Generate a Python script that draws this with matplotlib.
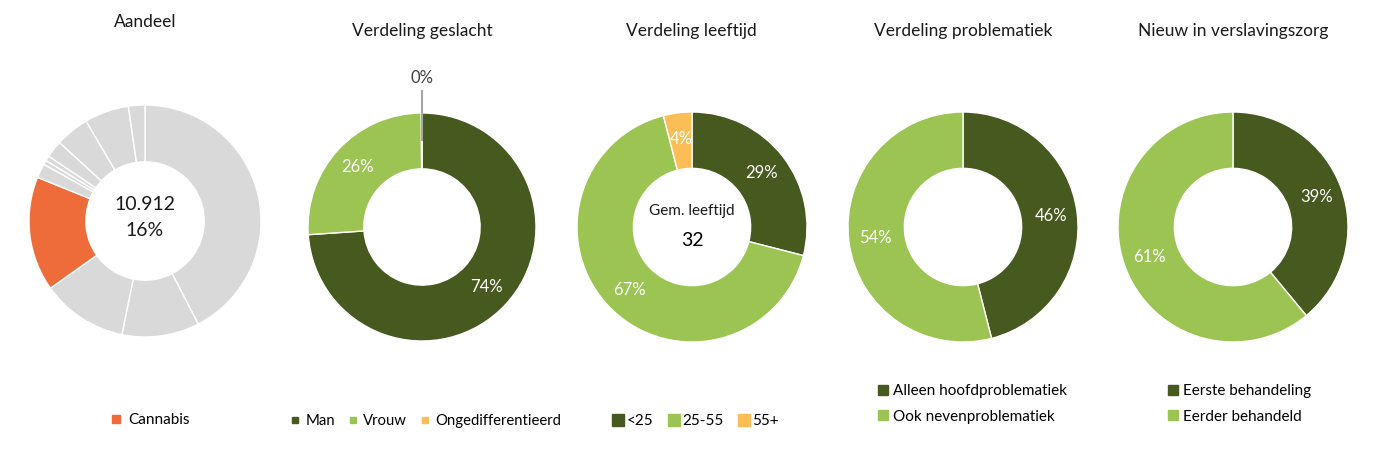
import matplotlib
matplotlib.use("Agg")
import matplotlib.pyplot as plt
import numpy as np
from matplotlib.lines import Line2D

plt.rcParams["font.family"] = ["Lato", "DejaVu Sans"]

W, H = 1388, 449

DARK = "#46591e"
LIGHT = "#9cc452"
ORANGE = "#fbbd55"
CANNABIS = "#ee6c3a"
GREY = "#d9d9d9"

# Aandeel: share of main problem substances, clockwise from 12 o'clock
aandeel_values = [42.5, 10.8, 12.0, 16.0, 2.0, 0.6, 0.7, 2.4, 4.7, 6.2, 2.3]
aandeel_cannabis_idx = 3
aandeel_total = "10.912"
aandeel_pct = "16%"

geslacht_labels = ["Man", "Vrouw", "Ongedifferentieerd"]
geslacht_values = [74, 26, 0.1]
geslacht_pct = ["74%", "26%", "0%"]

leeftijd_labels = ["<25", "25-55", "55+"]
leeftijd_values = [29, 67, 4]
gem_leeftijd = "32"

problematiek_labels = ["Alleen hoofdproblematiek", "Ook nevenproblematiek"]
problematiek_values = [46, 54]

nieuw_labels = ["Eerste behandeling", "Eerder behandeld"]
nieuw_values = [39, 61]


def fx(x):
    return x / W


def fy(y):
    return 1 - y / H


def donut_axes(fig, cx, cy, r):
    ax = fig.add_axes([fx(cx - r), fy(cy + r), 2 * r / W, 2 * r / H])
    return ax


def donut(ax, values, colors, show_pct=True, labels_txt=None):
    wedges, _ = ax.pie(values, colors=colors, startangle=90, counterclock=False,
                       radius=1, wedgeprops=dict(width=0.49, edgecolor="white", linewidth=1))
    ax.set_xlim(-1, 1)
    ax.set_ylim(-1, 1)
    ax.axis("off")
    if show_pct:
        total = sum(values)
        start = 90.0
        for i, v in enumerate(values):
            if labels_txt is not None and labels_txt[i] is None:
                start -= v / total * 360
                continue
            mid = np.deg2rad(start - v / total * 180)
            txt = labels_txt[i] if labels_txt else f"{v / total * 100:.0f}%"
            ax.text(0.77 * np.cos(mid), 0.77 * np.sin(mid), txt, color="white",
                    ha="center", va="center", fontsize=12)
            start -= v / total * 360
    return wedges


def square(color, ms):
    return Line2D([], [], marker="s", linestyle="none", color=color, markersize=ms)


fig = plt.figure(figsize=(W / 100, H / 100), dpi=100)

# titles
titles = [("Aandeel", 145, 22), ("Verdeling geslacht", 422, 31), ("Verdeling leeftijd", 691, 31),
          ("Verdeling problematiek", 963, 31), ("Nieuw in verslavingszorg", 1233, 31)]
for t, x, y in titles:
    fig.text(fx(x), fy(y), t, ha="center", va="center", fontsize=12.5, color="#1a1a1a")

# 1. Aandeel
ax1 = donut_axes(fig, 145, 221, 116)
cols1 = [GREY] * len(aandeel_values)
cols1[aandeel_cannabis_idx] = CANNABIS
donut(ax1, aandeel_values, cols1, show_pct=False)
ax1.text(0, 0.14, aandeel_total, ha="center", va="center", fontsize=14, color="#1a1a1a")
ax1.text(0, -0.08, aandeel_pct, ha="center", va="center", fontsize=14, color="#1a1a1a")
fig.legend([square(CANNABIS, 6)], ["Cannabis"], loc="center",
           bbox_to_anchor=(fx(150), fy(420)), frameon=False, fontsize=11,
           handlelength=0.8, handletextpad=0.4)

# 2. Geslacht
ax2 = donut_axes(fig, 422, 227, 114)
donut(ax2, geslacht_values, [DARK, LIGHT, ORANGE], labels_txt=geslacht_pct[:2] + [None])
ax2.plot([0, 0], [0.76, 1.19], color="#a6a6a6", lw=1.5, clip_on=False)
ax2.text(0, 1.31, geslacht_pct[2], ha="center", va="center", fontsize=12, color="#404040")
fig.legend([square(c, 5) for c in (DARK, LIGHT, ORANGE)], geslacht_labels, loc="center",
           bbox_to_anchor=(fx(426), fy(421)), frameon=False, fontsize=10.7, ncol=3,
           handlelength=0.6, handletextpad=0.4, columnspacing=0.9)

# 3. Leeftijd
ax3 = donut_axes(fig, 692, 227, 115)
donut(ax3, leeftijd_values, [DARK, LIGHT, ORANGE])
ax3.text(0, 0.14, "Gem. leeftijd", ha="center", va="center", fontsize=11, color="#1a1a1a")
ax3.text(0, -0.12, gem_leeftijd, ha="center", va="center", fontsize=14, color="#000000")
fig.legend([square(c, 8) for c in (DARK, LIGHT, ORANGE)], leeftijd_labels, loc="center",
           bbox_to_anchor=(fx(696), fy(421)), frameon=False, fontsize=11, ncol=3,
           handlelength=0.7, handletextpad=0.2, columnspacing=1.0)

# 4. Problematiek
ax4 = donut_axes(fig, 963, 227, 115)
donut(ax4, problematiek_values, [DARK, LIGHT])
fig.legend([square(c, 7) for c in (DARK, LIGHT)], problematiek_labels, loc="center left",
           bbox_to_anchor=(fx(864), fy(404)), frameon=False, fontsize=11, ncol=1,
           handlelength=0.7, handletextpad=0.3, labelspacing=0.75)

# 5. Nieuw in verslavingszorg
ax5 = donut_axes(fig, 1233, 227, 115)
donut(ax5, nieuw_values, [DARK, LIGHT])
fig.legend([square(c, 7) for c in (DARK, LIGHT)], nieuw_labels, loc="center left",
           bbox_to_anchor=(fx(1154), fy(404)), frameon=False, fontsize=11, ncol=1,
           handlelength=0.7, handletextpad=0.3, labelspacing=0.75)

fig.savefig("out.png", dpi=100)
